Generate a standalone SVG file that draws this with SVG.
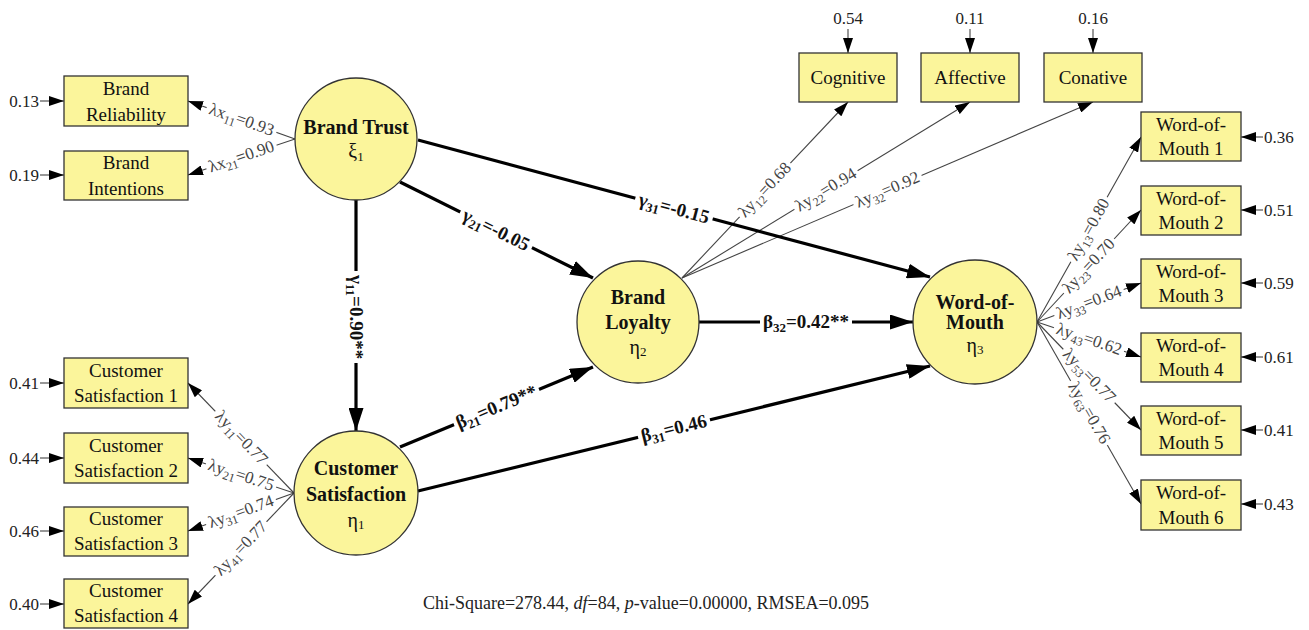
<svg xmlns="http://www.w3.org/2000/svg" width="1309" height="630" viewBox="0 0 1309 630">
<defs>
<style>
.box{fill:#FBF59B;stroke:#333;stroke-width:1.3}
.lat{fill:#FBF59B;stroke:#333;stroke-width:1.3}
.bt{font-family:"Liberation Serif",serif;font-size:19px;fill:#111;text-anchor:middle}
.lt{font-family:"Liberation Serif",serif;font-size:20px;font-weight:bold;fill:#111;text-anchor:middle}
.gk{font-family:"Liberation Serif",serif;font-size:20px;fill:#111;text-anchor:middle}
.err{font-family:"Liberation Serif",serif;font-size:17px;fill:#222}
.thin{stroke:#444;stroke-width:1.1;fill:none}
.thick{stroke:#000;stroke-width:3.2;fill:none}
.ll{font-family:"Liberation Serif",serif;font-size:17px;fill:#444;text-anchor:middle}
.sl{font-family:"Liberation Serif",serif;font-size:19px;font-weight:bold;fill:#111;text-anchor:middle}
.foot{font-family:"Liberation Serif",serif;font-size:18px;fill:#222;text-anchor:middle}
.cut{fill:#000}
</style>
<marker id="ah" viewBox="0 0 23 15" refX="23" refY="7.5" markerWidth="23" markerHeight="15" markerUnits="userSpaceOnUse" orient="auto"><path d="M0,0 L23,7.5 L0,15 z" fill="#000"/></marker>
<marker id="as" viewBox="0 0 15 10" refX="15" refY="5" markerWidth="15" markerHeight="10" markerUnits="userSpaceOnUse" orient="auto"><path d="M0,0 L15,5 L0,10 z" fill="#000"/></marker>
<mask id="gap" maskUnits="userSpaceOnUse" x="0" y="0" width="1309" height="630">
<rect width="1309" height="630" fill="#fff"/>
<rect class="cut" transform="translate(241.5,120) rotate(19.55)" x="-37" y="-5" width="74" height="10"/>
<rect class="cut" transform="translate(241.5,157) rotate(-18.6)" x="-37" y="-5" width="74" height="10"/>
<rect class="cut" transform="translate(241,438) rotate(46.1)" x="-37" y="-5" width="74" height="10"/>
<rect class="cut" transform="translate(241,475.5) rotate(18.3)" x="-37" y="-5" width="74" height="10"/>
<rect class="cut" transform="translate(241,512) rotate(-19.7)" x="-37" y="-5" width="74" height="10"/>
<rect class="cut" transform="translate(241,548.5) rotate(-46.3)" x="-37" y="-5" width="74" height="10"/>
<rect class="cut" transform="translate(765,190) rotate(-46.7)" x="-37" y="-5" width="74" height="10"/>
<rect class="cut" transform="translate(826,190) rotate(-31.4)" x="-37" y="-5" width="74" height="10"/>
<rect class="cut" transform="translate(887.5,190) rotate(-23.2)" x="-37" y="-5" width="74" height="10"/>
<rect class="cut" transform="translate(1089,229.5) rotate(-60.7)" x="-37" y="-5" width="74" height="10"/>
<rect class="cut" transform="translate(1089,266) rotate(-47.1)" x="-37" y="-5" width="74" height="10"/>
<rect class="cut" transform="translate(1089,302.5) rotate(-20.6)" x="-37" y="-5" width="74" height="10"/>
<rect class="cut" transform="translate(1089,339.5) rotate(18.6)" x="-37" y="-5" width="74" height="10"/>
<rect class="cut" transform="translate(1089,376) rotate(46.1)" x="-37" y="-5" width="74" height="10"/>
<rect class="cut" transform="translate(1089,413) rotate(60.3)" x="-37" y="-5" width="74" height="10"/>
<rect class="cut" transform="translate(356,317) rotate(90)" x="-46" y="-6" width="92" height="12"/>
<rect class="cut" transform="translate(496,230) rotate(26.4)" x="-40" y="-6" width="80" height="12"/>
<rect class="cut" transform="translate(674,208.5) rotate(15)" x="-40" y="-6" width="80" height="12"/>
<rect class="cut" transform="translate(806,322)" x="-46" y="-6" width="92" height="12"/>
<rect class="cut" transform="translate(496.5,407) rotate(-22.5)" x="-46" y="-6" width="92" height="12"/>
<rect class="cut" transform="translate(674,428.5) rotate(-13.7)" x="-37" y="-6" width="74" height="12"/>
</mask>
</defs>
<rect width="1309" height="630" fill="#fff"/>

<g id="connectors">
<g mask="url(#gap)">
<line class="thin" x1="40" y1="101" x2="64" y2="101" marker-end="url(#as)"/>
<line class="thin" x1="40" y1="175" x2="64" y2="175" marker-end="url(#as)"/>
<line class="thin" x1="40" y1="383" x2="64" y2="383" marker-end="url(#as)"/>
<line class="thin" x1="40" y1="458" x2="64" y2="458" marker-end="url(#as)"/>
<line class="thin" x1="40" y1="531" x2="64" y2="531" marker-end="url(#as)"/>
<line class="thin" x1="40" y1="604" x2="64" y2="604" marker-end="url(#as)"/>
<line class="thin" x1="848" y1="29" x2="848" y2="53" marker-end="url(#as)"/>
<line class="thin" x1="970" y1="29" x2="970" y2="53" marker-end="url(#as)"/>
<line class="thin" x1="1093" y1="29" x2="1093" y2="53" marker-end="url(#as)"/>
<line class="thin" x1="1263" y1="137" x2="1241" y2="137" marker-end="url(#as)"/>
<line class="thin" x1="1263" y1="210" x2="1241" y2="210" marker-end="url(#as)"/>
<line class="thin" x1="1263" y1="283" x2="1241" y2="283" marker-end="url(#as)"/>
<line class="thin" x1="1263" y1="357" x2="1241" y2="357" marker-end="url(#as)"/>
<line class="thin" x1="1263" y1="430" x2="1241" y2="430" marker-end="url(#as)"/>
<line class="thin" x1="1263" y1="504" x2="1241" y2="504" marker-end="url(#as)"/>
<line class="thin" x1="295" y1="139" x2="188" y2="101" marker-end="url(#as)"/>
<line class="thin" x1="295" y1="139" x2="188" y2="175" marker-end="url(#as)"/>
<line class="thin" x1="294" y1="493" x2="188" y2="383" marker-end="url(#as)"/>
<line class="thin" x1="294" y1="493" x2="188" y2="458" marker-end="url(#as)"/>
<line class="thin" x1="294" y1="493" x2="188" y2="531" marker-end="url(#as)"/>
<line class="thin" x1="294" y1="493" x2="188" y2="604" marker-end="url(#as)"/>
<line class="thin" x1="682" y1="278" x2="848" y2="102" marker-end="url(#as)"/>
<line class="thin" x1="682" y1="278" x2="970" y2="102" marker-end="url(#as)"/>
<line class="thin" x1="682" y1="278" x2="1093" y2="102" marker-end="url(#as)"/>
<line class="thin" x1="1037" y1="322" x2="1141" y2="137" marker-end="url(#as)"/>
<line class="thin" x1="1037" y1="322" x2="1141" y2="210" marker-end="url(#as)"/>
<line class="thin" x1="1037" y1="322" x2="1141" y2="283" marker-end="url(#as)"/>
<line class="thin" x1="1037" y1="322" x2="1141" y2="357" marker-end="url(#as)"/>
<line class="thin" x1="1037" y1="322" x2="1141" y2="430" marker-end="url(#as)"/>
<line class="thin" x1="1037" y1="322" x2="1141" y2="504" marker-end="url(#as)"/>
<line class="thick" x1="356" y1="200" x2="356" y2="431" marker-end="url(#ah)"/>
<line class="thick" x1="400" y1="182" x2="593" y2="278" marker-end="url(#ah)"/>
<line class="thick" x1="418" y1="140" x2="930" y2="277" marker-end="url(#ah)"/>
<line class="thick" x1="699" y1="322" x2="913" y2="322" marker-end="url(#ah)"/>
<line class="thick" x1="400" y1="447" x2="593" y2="367" marker-end="url(#ah)"/>
<line class="thick" x1="418" y1="491" x2="930" y2="366" marker-end="url(#ah)"/>
</g>
<text class="ll" transform="translate(241.5,120) rotate(19.55)" y="5">λx<tspan font-size="12" dy="4">11</tspan><tspan dy="-4">=0.93</tspan></text>
<text class="ll" transform="translate(241.5,157) rotate(-18.6)" y="5">λx<tspan font-size="12" dy="4">21</tspan><tspan dy="-4">=0.90</tspan></text>
<text class="ll" transform="translate(241,438) rotate(46.1)" y="5">λy<tspan font-size="12" dy="4">11</tspan><tspan dy="-4">=0.77</tspan></text>
<text class="ll" transform="translate(241,475.5) rotate(18.3)" y="5">λy<tspan font-size="12" dy="4">21</tspan><tspan dy="-4">=0.75</tspan></text>
<text class="ll" transform="translate(241,512) rotate(-19.7)" y="5">λy<tspan font-size="12" dy="4">31</tspan><tspan dy="-4">=0.74</tspan></text>
<text class="ll" transform="translate(241,548.5) rotate(-46.3)" y="5">λy<tspan font-size="12" dy="4">41</tspan><tspan dy="-4">=0.77</tspan></text>
<text class="ll" transform="translate(765,190) rotate(-46.7)" y="5">λy<tspan font-size="12" dy="4">12</tspan><tspan dy="-4">=0.68</tspan></text>
<text class="ll" transform="translate(826,190) rotate(-31.4)" y="5">λy<tspan font-size="12" dy="4">22</tspan><tspan dy="-4">=0.94</tspan></text>
<text class="ll" transform="translate(887.5,190) rotate(-23.2)" y="5">λy<tspan font-size="12" dy="4">32</tspan><tspan dy="-4">=0.92</tspan></text>
<text class="ll" transform="translate(1089,229.5) rotate(-60.7)" y="5">λy<tspan font-size="12" dy="4">13</tspan><tspan dy="-4">=0.80</tspan></text>
<text class="ll" transform="translate(1089,266) rotate(-47.1)" y="5">λy<tspan font-size="12" dy="4">23</tspan><tspan dy="-4">=0.70</tspan></text>
<text class="ll" transform="translate(1089,302.5) rotate(-20.6)" y="5">λy<tspan font-size="12" dy="4">33</tspan><tspan dy="-4">=0.64</tspan></text>
<text class="ll" transform="translate(1089,339.5) rotate(18.6)" y="5">λy<tspan font-size="12" dy="4">43</tspan><tspan dy="-4">=0.62</tspan></text>
<text class="ll" transform="translate(1089,376) rotate(46.1)" y="5">λy<tspan font-size="12" dy="4">53</tspan><tspan dy="-4">=0.77</tspan></text>
<text class="ll" transform="translate(1089,413) rotate(60.3)" y="5">λy<tspan font-size="12" dy="4">63</tspan><tspan dy="-4">=0.76</tspan></text>
<text class="sl" transform="translate(356,317) rotate(90)" y="6">γ<tspan font-size="13" dy="4">11</tspan><tspan dy="-4">=0.90**</tspan></text>
<text class="sl" transform="translate(496,230) rotate(26.4)" y="6">γ<tspan font-size="13" dy="4">21</tspan><tspan dy="-4">=-0.05</tspan></text>
<text class="sl" transform="translate(674,208.5) rotate(15)" y="6">γ<tspan font-size="13" dy="4">31</tspan><tspan dy="-4">=-0.15</tspan></text>
<text class="sl" transform="translate(806,322)" y="6">β<tspan font-size="13" dy="4">32</tspan><tspan dy="-4">=0.42**</tspan></text>
<text class="sl" transform="translate(496.5,407) rotate(-22.5)" y="6">β<tspan font-size="13" dy="4">21</tspan><tspan dy="-4">=0.79**</tspan></text>
<text class="sl" transform="translate(674,428.5) rotate(-13.7)" y="6">β<tspan font-size="13" dy="4">31</tspan><tspan dy="-4">=0.46</tspan></text>
</g>

<g id="errors">
<text class="err" x="39" y="107" text-anchor="end">0.13</text>
<text class="err" x="39" y="181" text-anchor="end">0.19</text>
<text class="err" x="39" y="389" text-anchor="end">0.41</text>
<text class="err" x="39" y="464" text-anchor="end">0.44</text>
<text class="err" x="39" y="537" text-anchor="end">0.46</text>
<text class="err" x="39" y="610" text-anchor="end">0.40</text>
<text class="err" x="848" y="24" text-anchor="middle">0.54</text>
<text class="err" x="970" y="24" text-anchor="middle">0.11</text>
<text class="err" x="1093" y="24" text-anchor="middle">0.16</text>
<text class="err" x="1264" y="143">0.36</text>
<text class="err" x="1264" y="216">0.51</text>
<text class="err" x="1264" y="289">0.59</text>
<text class="err" x="1264" y="363">0.61</text>
<text class="err" x="1264" y="436">0.41</text>
<text class="err" x="1264" y="510">0.43</text>
</g>

<g id="brand-reliability"><rect class="box" x="64" y="76" width="124" height="50"/><text class="bt" x="126" y="95">Brand</text><text class="bt" x="126" y="121">Reliability</text></g>
<g id="brand-intentions"><rect class="box" x="64" y="151" width="124" height="49"/><text class="bt" x="126" y="169">Brand</text><text class="bt" x="126" y="195">Intentions</text></g>
<g id="cs1"><rect class="box" x="64" y="358" width="124" height="50"/><text class="bt" x="126" y="377">Customer</text><text class="bt" x="126" y="402">Satisfaction 1</text></g>
<g id="cs2"><rect class="box" x="64" y="433" width="124" height="50"/><text class="bt" x="126" y="452">Customer</text><text class="bt" x="126" y="477">Satisfaction 2</text></g>
<g id="cs3"><rect class="box" x="64" y="507" width="124" height="49"/><text class="bt" x="126" y="525">Customer</text><text class="bt" x="126" y="550">Satisfaction 3</text></g>
<g id="cs4"><rect class="box" x="64" y="579" width="124" height="49"/><text class="bt" x="126" y="597">Customer</text><text class="bt" x="126" y="622">Satisfaction 4</text></g>
<g id="cognitive"><rect class="box" x="799" y="53" width="98" height="49"/><text class="bt" x="848" y="84">Cognitive</text></g>
<g id="affective"><rect class="box" x="921" y="53" width="98" height="49"/><text class="bt" x="970" y="84">Affective</text></g>
<g id="conative"><rect class="box" x="1044" y="53" width="98" height="49"/><text class="bt" x="1093" y="84">Conative</text></g>
<g id="wom1"><rect class="box" x="1141" y="112" width="100" height="49"/><text class="bt" x="1191" y="131">Word-of-</text><text class="bt" x="1191" y="155">Mouth 1</text></g>
<g id="wom2"><rect class="box" x="1141" y="186" width="100" height="49"/><text class="bt" x="1191" y="205">Word-of-</text><text class="bt" x="1191" y="229">Mouth 2</text></g>
<g id="wom3"><rect class="box" x="1141" y="259" width="100" height="49"/><text class="bt" x="1191" y="278">Word-of-</text><text class="bt" x="1191" y="302">Mouth 3</text></g>
<g id="wom4"><rect class="box" x="1141" y="333" width="100" height="49"/><text class="bt" x="1191" y="352">Word-of-</text><text class="bt" x="1191" y="376">Mouth 4</text></g>
<g id="wom5"><rect class="box" x="1141" y="406" width="100" height="49"/><text class="bt" x="1191" y="425">Word-of-</text><text class="bt" x="1191" y="449">Mouth 5</text></g>
<g id="wom6"><rect class="box" x="1141" y="480" width="100" height="50"/><text class="bt" x="1191" y="499">Word-of-</text><text class="bt" x="1191" y="524">Mouth 6</text></g>

<g id="brand-trust"><circle class="lat" cx="356" cy="139" r="61"/><text class="lt" x="356" y="134">Brand Trust</text><text class="gk" x="356" y="158">ξ<tspan font-size="13" dy="3">1</tspan></text></g>
<g id="customer-satisfaction"><circle class="lat" cx="356" cy="493" r="62"/><text class="lt" x="356" y="475">Customer</text><text class="lt" x="356" y="501">Satisfaction</text><text class="gk" x="356" y="527">η<tspan font-size="13" dy="2">1</tspan></text></g>
<g id="brand-loyalty"><circle class="lat" cx="638" cy="322" r="61"/><text class="lt" x="638" y="304">Brand</text><text class="lt" x="638" y="329">Loyalty</text><text class="gk" x="638" y="354">η<tspan font-size="13" dy="2">2</tspan></text></g>
<g id="word-of-mouth"><circle class="lat" cx="975" cy="322" r="62"/><text class="lt" x="975" y="309">Word-of-</text><text class="lt" x="975" y="329">Mouth</text><text class="gk" x="975" y="352">η<tspan font-size="13" dy="2">3</tspan></text></g>

<text class="foot" x="646" y="609">Chi-Square=278.44, <tspan font-style="italic">df</tspan>=84, <tspan font-style="italic">p</tspan>-value=0.00000, RMSEA=0.095</text>
</svg>
